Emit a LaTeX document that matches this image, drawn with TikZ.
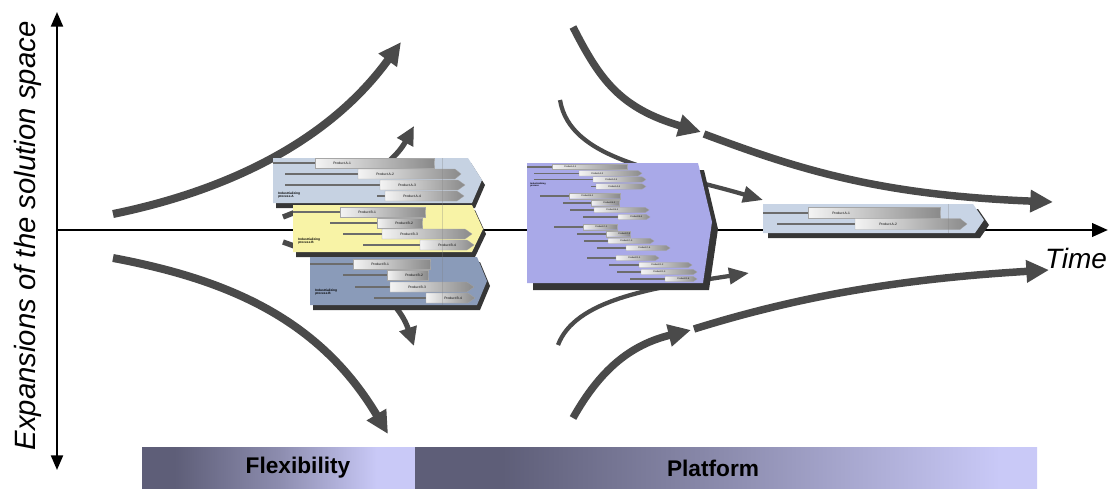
\documentclass[tikz,border=0pt]{standalone}
\usepackage{fontspec}
\setmainfont{Liberation Sans}
\usetikzlibrary{arrows.meta,calc}

\definecolor{flowgray}{HTML}{4A4A4A}
\definecolor{shadowc}{HTML}{363636}
\definecolor{procA}{HTML}{C6D2E2}
\definecolor{procB}{HTML}{F8F3A6}
\definecolor{procC}{HTML}{8A9BB9}
\definecolor{platf}{HTML}{A9A9E8}
\definecolor{procR}{HTML}{C8D4E5}
\definecolor{linegray}{HTML}{6C6C6C}
\definecolor{barwhite}{HTML}{F4F4F4}
\definecolor{bargray}{HTML}{8A8A8A}
\definecolor{bardark}{HTML}{5E5E78}
\definecolor{barmid}{HTML}{8C8CAE}
\definecolor{barlight}{HTML}{C9C9F7}

% horizontal shadings for the two phase bars (stops between 25bp and 75bp span the path)
\pgfdeclarehorizontalshading{flexshade}{100bp}{color(0bp)=(bardark); color(25bp)=(bardark); color(31bp)=(bardark); color(50bp)=(barmid); color(68bp)=(barlight); color(100bp)=(barlight)}
\pgfdeclarehorizontalshading{platshade}{100bp}{color(0bp)=(bardark); color(25bp)=(bardark); color(32bp)=(bardark); color(50bp)=(barmid); color(72bp)=(barlight); color(100bp)=(barlight)}

% tag-shaped box: style, x0, y0, top-right x, tip x, tip y, bottom-right x, y1
\newcommand\tagbox[8]{\path[#1] (#2,#3) -- (#4,#3) -- (#5,#6) -- (#7,#8) -- (#2,#8) -- cycle;}
% product bar: name, line start, bar start, bar end, y, tip length, label
\newcommand\prodbar[7]{%
  \draw[barline] (#2,#5) -- (#3,#5);
  \shade[barfill] (#3,#5-\barh) -- (#4-#6,#5-\barh) -- (#4,#5) -- (#4-#6,#5+\barh) -- (#3,#5+\barh) -- cycle;
  \node[bartext] (#1) at (#3+\txtoff,#5) {#7};
}

\begin{document}
\begin{tikzpicture}[x=0.75pt,y=-0.75pt,
  axis/.style={draw=black,line width=2.2pt},
  bigflow/.style={draw=flowgray,line width=5.6pt,-{Triangle[length=17pt,width=16pt]}},
  midflow/.style={draw=flowgray,line width=4pt,-{Triangle[length=14pt,width=13pt]}},
  thinflow/.style={draw=flowgray,line width=3.2pt,-{Triangle[length=15pt,width=12pt]}},
  shadow/.style={fill=shadowc},
  barline/.style={draw=linegray,line width=1.7pt},
  barfill/.style={left color=barwhite,right color=bargray,draw=gray!70,line width=0.2pt},
  bartext/.style={anchor=west,inner sep=0pt,font=\fontsize{2.5}{3}\selectfont},
  proclabel/.style={anchor=west,inner sep=0pt,align=left,font=\fontsize{2.4}{2.7}\selectfont\bfseries},
  divider/.style={draw=gray,draw opacity=0.3,line width=0.5pt},
  phase/.style={font=\fontsize{17}{20}\selectfont\bfseries,text=black}
]
\useasboundingbox (0,0) rectangle (1111,489);

% ---------- axes ----------
\coordinate (origin) at (57,230);
\coordinate (timeend) at (1108,230);
\coordinate (ytop) at (57,12);
\coordinate (ybot) at (57,470);
\draw[axis,-{Triangle[length=12pt,width=10pt]}] (origin) -- (timeend);
\draw[draw=black,line width=1.6pt,{Triangle[length=11pt,width=9pt]}-{Triangle[length=11pt,width=9pt]}] (ybot) -- (ytop);
\node[font=\fontsize{22}{26}\selectfont\itshape,rotate=90] (ylabel) at (28,236) {Expansions of the solution space};
\node[font=\fontsize{21}{25}\selectfont\itshape] (tlabel) at (1076,258) {Time};

% ---------- flows: flexibility phase ----------
\coordinate (f1s) at (113,214);  \coordinate (f1e) at (401,42);
\coordinate (f2s) at (283,217);  \coordinate (f2e) at (414,126);
\coordinate (f3s) at (113,258);  \coordinate (f3e) at (388,434);
\coordinate (f4s) at (283,242);  \coordinate (f4e) at (414,346);
\draw[bigflow,line width=6pt] (f1s) .. controls (230,190) and (330,140) .. (f1e);
\draw[midflow] (f2s) .. controls (340,195) and (390,170) .. (f2e);
\draw[bigflow,line width=6pt] (f3s) .. controls (230,280) and (320,320) .. (f3e);
\draw[midflow] (f4s) .. controls (340,262) and (395,290) .. (f4e);

% ---------- flows: platform phase ----------
\coordinate (g1s) at (573,27);   \coordinate (g1m) at (701,132);
\coordinate (g1n) at (704,134);  \coordinate (g1e) at (1053,202);
\coordinate (g2s) at (560,100);  \coordinate (g2e) at (763,200);
\coordinate (g3s) at (558,345);  \coordinate (g3e) at (749,273);
\coordinate (g4s) at (573,418);  \coordinate (g4m) at (691,330);
\coordinate (g4n) at (694,329);  \coordinate (g4e) at (1049,270);
\draw[bigflow] (g1s) .. controls (600,80) and (620,108) .. (g1m);
\draw[bigflow] (g1n) .. controls (800,170) and (880,195) .. (g1e);
\draw[thinflow] (g2s) .. controls (570,160) and (660,170) .. (g2e);
\draw[thinflow] (g3s) .. controls (575,300) and (650,288) .. (g3e);
\draw[bigflow] (g4s) .. controls (600,370) and (630,345) .. (g4m);
\draw[bigflow] (g4n) .. controls (800,296) and (900,279) .. (g4e);

% ---------- industrializing processes A, B, B ----------
\def\barh{5}\def\txtoff{18}
\tagbox{shadow,shift={(3,5)}}{273}{158}{468}{482}{180}{472}{203}
\tagbox{fill=procA}{273}{158}{468}{482}{180}{472}{203}
\prodbar{a1}{273}{315}{434}{163}{0}{Product A-1}
\prodbar{a2}{285}{358}{461}{174}{6}{Product A-2}
\prodbar{a3}{285}{380}{465}{185}{7}{Product A-3}
\prodbar{a4}{377}{385}{464}{196}{7}{Product A-4}
\node[proclabel] (procAlbl) at (278,195) {Industrializing\\process A};

\tagbox{shadow,shift={(3,5)}}{293}{205}{472}{483}{229}{472}{252}
\tagbox{fill=procB}{293}{205}{472}{483}{229}{472}{252}
\prodbar{b1}{293}{340}{425}{212}{0}{Product B-1}
\prodbar{b2}{330}{377}{422}{223}{0}{Product B-2}
\prodbar{b3}{343}{382}{472}{234}{7}{Product B-3}
\prodbar{b4}{363}{420}{474}{245}{7}{Product B-4}
\node[proclabel] (procBlbl) at (298,241) {Industrializing\\process B};

\tagbox{shadow,shift={(3,5)}}{310}{257}{477}{487}{281}{477}{305}
\tagbox{fill=procC}{310}{257}{477}{487}{281}{477}{305}
\prodbar{c1}{310}{353}{430}{264}{0}{Product B-1}
\prodbar{c2}{343}{387}{428}{275}{0}{Product B-2}
\prodbar{c3}{355}{390}{474}{287}{7}{Product B-3}
\prodbar{c4}{374}{426}{475}{298}{7}{Product B-4}
\node[proclabel] (procClbl) at (315,292) {Industrializing\\process B};
\draw[divider] (442,158) -- (442,305);

% ---------- platform ----------
\def\barh{2.7}\def\txtoff{12}
\tagbox{shadow,shift={(6,7)}}{527}{163}{698}{712}{222}{703}{283}
\tagbox{fill=platf}{527}{163}{698}{712}{222}{703}{283}
\begin{scope}[barline/.style={draw=linegray,line width=1.2pt},
              bartext/.style={anchor=west,inner sep=0pt,font=\fontsize{1.7}{2}\selectfont}]
\prodbar{p1}{527}{552}{627}{166.7}{0}{Product A-1}
\prodbar{p2}{534}{579}{642}{173.3}{4}{Product A-2}
\prodbar{p3}{534}{593}{646}{179.5}{4}{Product A-3}
\prodbar{p4}{591}{596}{646}{186.5}{4}{Product A-4}
\prodbar{p5}{540}{569}{620}{196}{0}{Product B-1}
\prodbar{p6}{563}{591}{619}{203}{0}{Product B-2}
\prodbar{p7}{570}{594}{649}{210}{4}{Product B-3}
\prodbar{p8}{583}{618}{650}{217}{4}{Product B-4}
\prodbar{p9}{554}{583}{617}{227}{0}{Product C-1}
\prodbar{p10}{577}{606}{630}{234}{0}{Product C-2}
\prodbar{p11}{584}{608}{654}{241}{4}{Product C-3}
\prodbar{p12}{597}{626}{670}{248}{4}{Product C-4}
\prodbar{p13}{587}{616}{659}{258}{4}{Product D-1}
\prodbar{p14}{609}{639}{692}{265}{4}{Product D-2}
\prodbar{p15}{617}{641}{697}{272}{4}{Product D-3}
\prodbar{p16}{630}{665}{697}{279}{4}{Product D-4}
\node[proclabel,font=\fontsize{1.7}{2}\selectfont\bfseries] (procPlbl) at (530,185) {Industrializing\\process};
\end{scope}

% ---------- single remaining process ----------
\def\barh{5.5}\def\txtoff{24}
\tagbox{shadow,shift={(5,5)}}{763}{204}{973}{984}{220}{975}{233}
\tagbox{fill=procR}{763}{204}{973}{984}{220}{975}{233}
\prodbar{r1}{763}{808}{940}{213}{0}{Product A-1}
\prodbar{r2}{777}{855}{967}{224}{7}{Product A-2}
\draw[divider] (948,204) -- (948,233);

% ---------- phase bars ----------
\shade[shading=flexshade] (142,447) rectangle (415,489);
\shade[shading=platshade] (415,447) rectangle (1037,489);
\node[phase] (flex) at (298,468) {Flexibility};
\node[phase] (plat) at (713,468) {Platform};
\end{tikzpicture}
\end{document}
